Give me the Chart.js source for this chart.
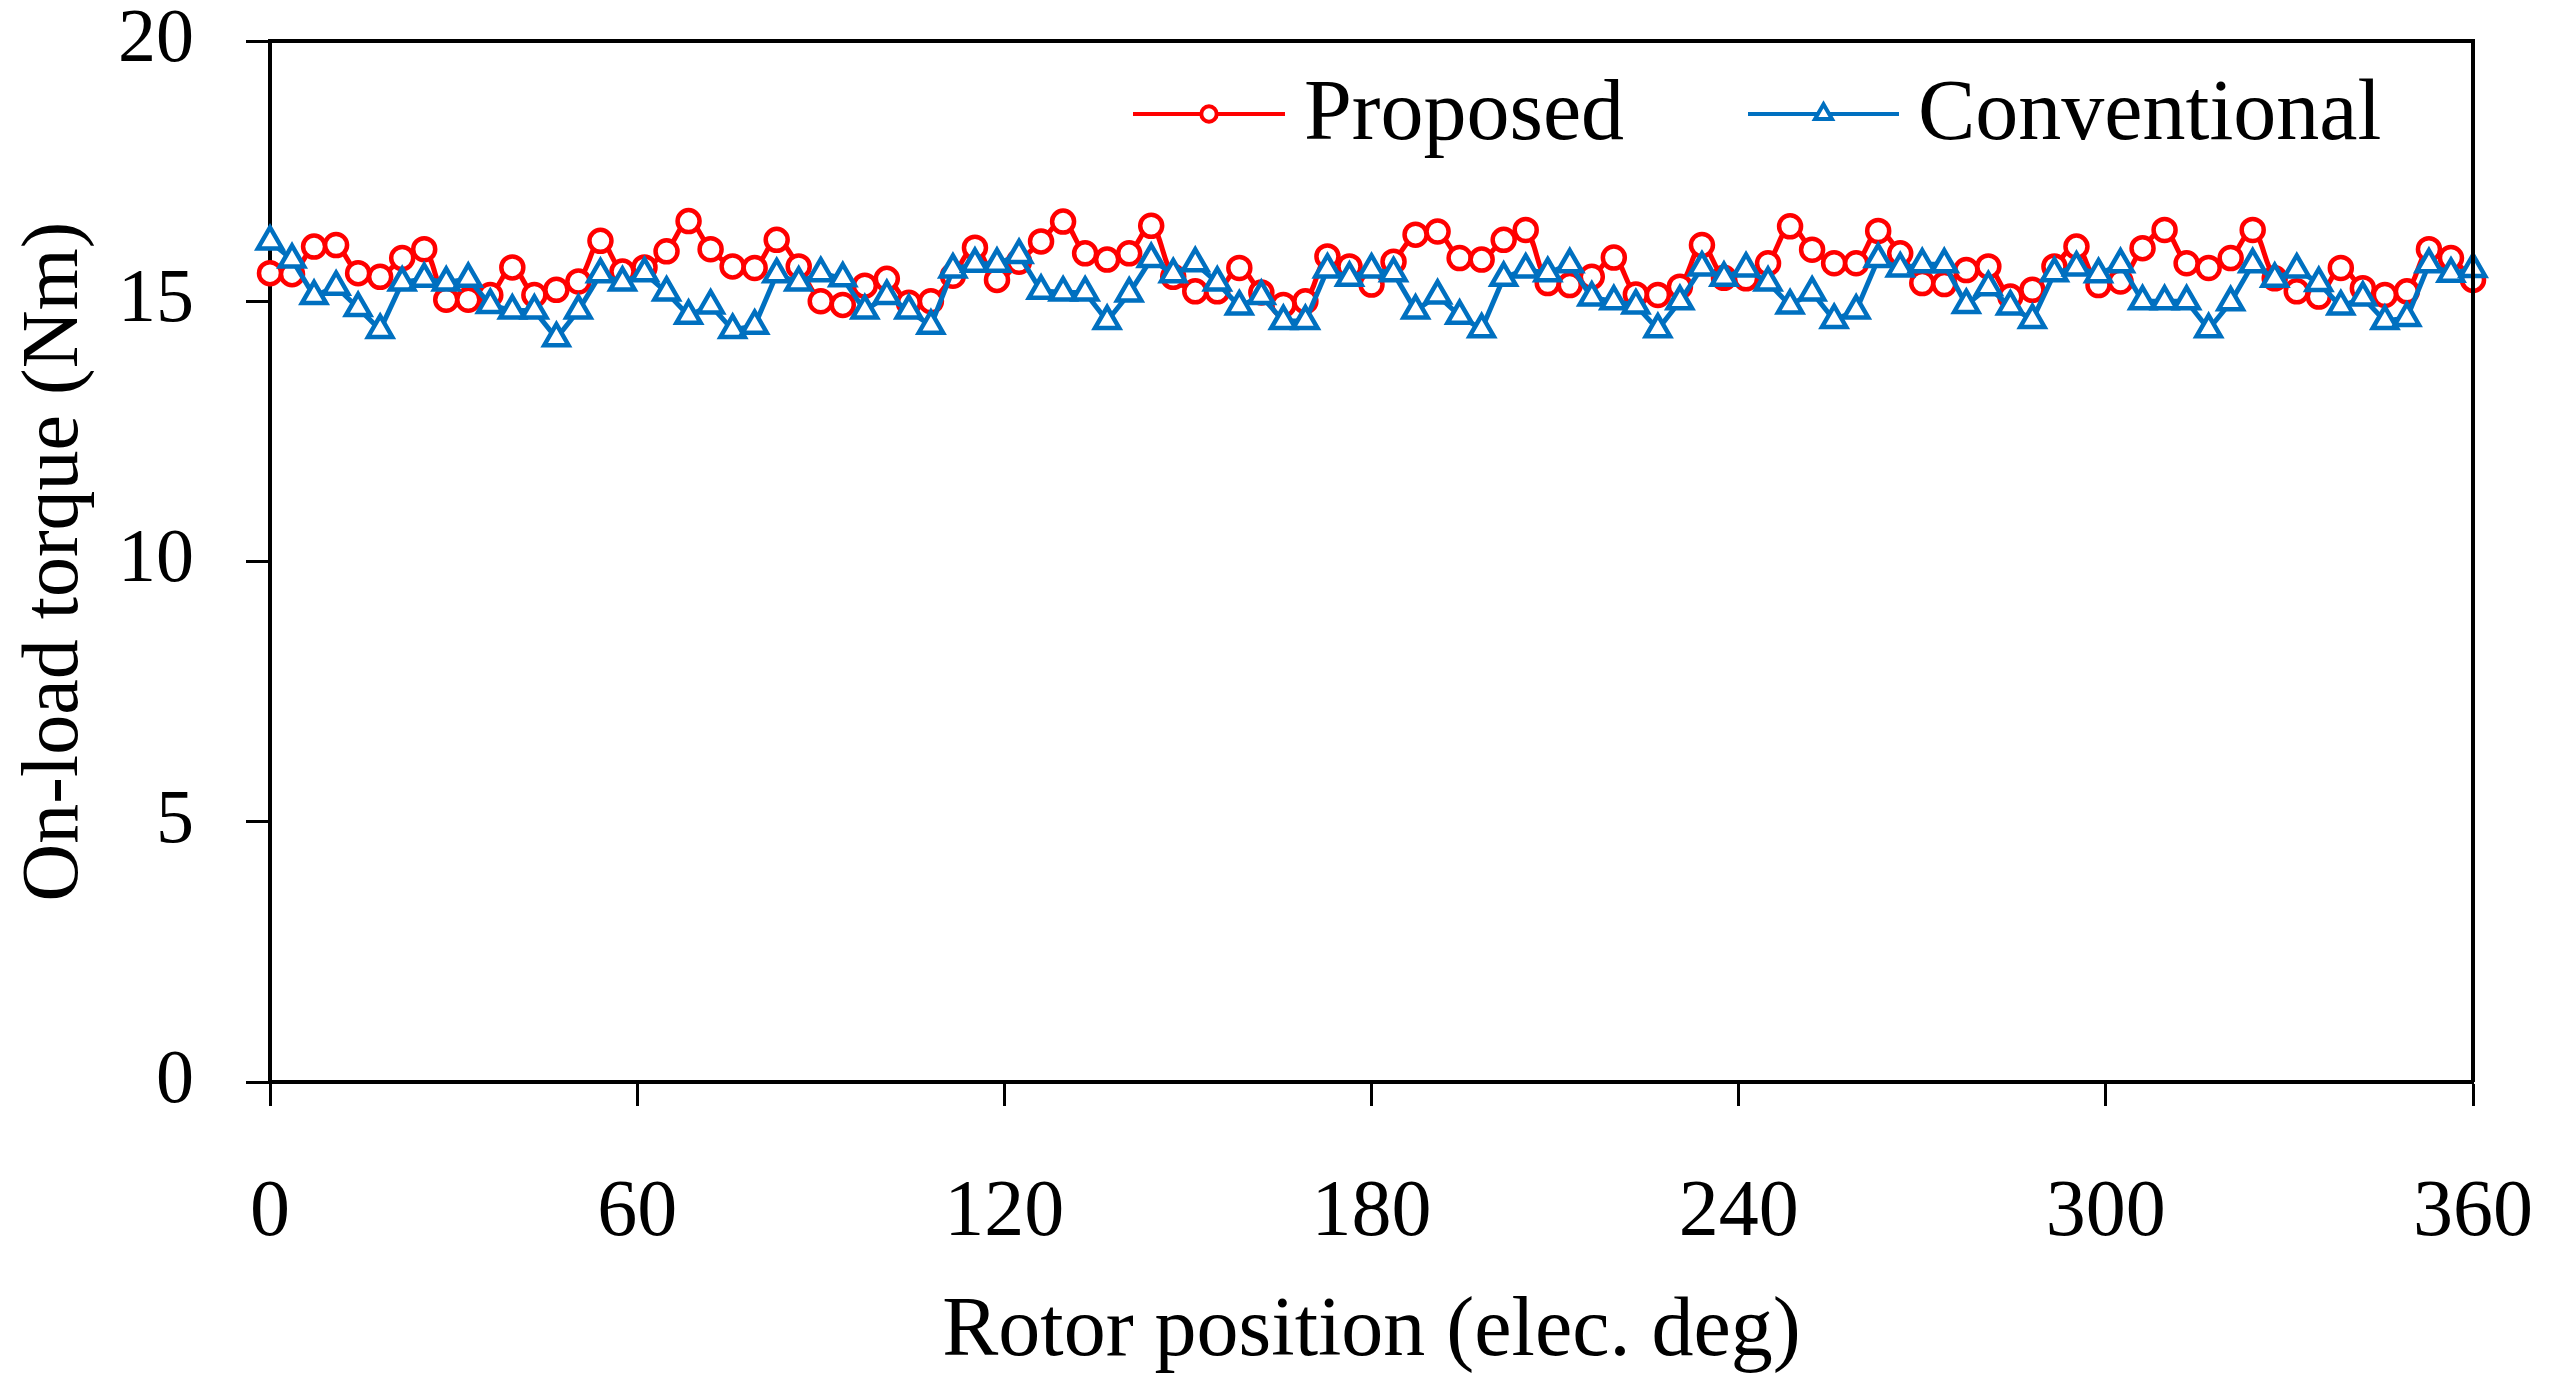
<!DOCTYPE html>
<html>
<head>
<meta charset="utf-8">
<script src="https://cdn.jsdelivr.net/npm/chart.js@4.4.1/dist/chart.umd.min.js"></script>
<style>
  html, body { margin: 0; padding: 0; background: #fff; }
</style>
</head>
<body>
<canvas id="Chart1" width="2550" height="1398"></canvas>
<script>
// Rotor position (elec. deg), one sample every 3.6 deg
const angles = [
  0, 3.6, 7.2, 10.8, 14.4, 18, 21.6, 25.2, 28.8, 32.4,
  36, 39.6, 43.2, 46.8, 50.4, 54, 57.6, 61.2, 64.8, 68.4,
  72, 75.6, 79.2, 82.8, 86.4, 90, 93.6, 97.2, 100.8, 104.4,
  108, 111.6, 115.2, 118.8, 122.4, 126, 129.6, 133.2, 136.8, 140.4,
  144, 147.6, 151.2, 154.8, 158.4, 162, 165.6, 169.2, 172.8, 176.4,
  180, 183.6, 187.2, 190.8, 194.4, 198, 201.6, 205.2, 208.8, 212.4,
  216, 219.6, 223.2, 226.8, 230.4, 234, 237.6, 241.2, 244.8, 248.4,
  252, 255.6, 259.2, 262.8, 266.4, 270, 273.6, 277.2, 280.8, 284.4,
  288, 291.6, 295.2, 298.8, 302.4, 306, 309.6, 313.2, 316.8, 320.4,
  324, 327.6, 331.2, 334.8, 338.4, 342, 345.6, 349.2, 352.8, 356.4,
  360
];

// On-load torque (Nm)
const proposed = [
  15.54, 15.52, 16.05, 16.08, 15.54, 15.47, 15.83, 16.00, 15.03, 15.03,
  15.12, 15.65, 15.12, 15.22, 15.38, 16.16, 15.57, 15.65, 15.96, 16.54,
  16.00, 15.67, 15.64, 16.18, 15.67, 15.00, 14.93, 15.30, 15.43, 14.97,
  15.00, 15.49, 16.03, 15.41, 15.76, 16.15, 16.53, 15.92, 15.80, 15.92,
  16.45, 15.47, 15.19, 15.19, 15.64, 15.17, 14.93, 15.00, 15.86, 15.67,
  15.32, 15.76, 16.28, 16.34, 15.83, 15.80, 16.18, 16.37, 15.35, 15.31,
  15.47, 15.84, 15.13, 15.12, 15.28, 16.08, 15.45, 15.44, 15.73, 16.44,
  15.99, 15.73, 15.73, 16.35, 15.92, 15.35, 15.33, 15.60, 15.67, 15.09,
  15.22, 15.67, 16.05, 15.31, 15.38, 16.02, 16.37, 15.73, 15.64, 15.83,
  16.37, 15.44, 15.19, 15.09, 15.64, 15.25, 15.12, 15.19, 16.00, 15.83,
  15.41
];
const conventional = [
  16.15, 15.80, 15.10, 15.28, 14.87, 14.45, 15.36, 15.43, 15.36, 15.43,
  14.93, 14.82, 14.82, 14.29, 14.82, 15.52, 15.36, 15.54, 15.17, 14.72,
  14.92, 14.45, 14.53, 15.52, 15.36, 15.54, 15.44, 14.82, 15.10, 14.82,
  14.53, 15.61, 15.72, 15.72, 15.89, 15.20, 15.17, 15.17, 14.62, 15.15,
  15.81, 15.52, 15.73, 15.36, 14.90, 15.10, 14.62, 14.62, 15.61, 15.45,
  15.61, 15.54, 14.82, 15.11, 14.72, 14.46, 15.45, 15.61, 15.54, 15.71,
  15.07, 15.00, 14.92, 14.46, 15.00, 15.65, 15.45, 15.63, 15.36, 14.92,
  15.17, 14.64, 14.82, 15.81, 15.63, 15.71, 15.71, 14.93, 15.27, 14.90,
  14.64, 15.54, 15.65, 15.52, 15.71, 15.00, 15.00, 15.00, 14.46, 14.98,
  15.71, 15.43, 15.61, 15.35, 14.90, 15.07, 14.62, 14.68, 15.71, 15.53,
  15.62
];

const xTicks = [0, 60, 120, 180, 240, 300, 360];
const yTicks = [0, 5, 10, 15, 20];

const FONT = '"Liberation Serif", "DejaVu Serif", serif';
const RED = '#FF0000';
const BLUE = '#0070C0';

function toPoints(xs, ys) {
  return xs.map((x, i) => ({x: x, y: ys[i]}));
}

// plot frame (top and right edges)
const framePlugin = {
  id: 'frame',
  afterDraw(chart) {
    const {ctx, chartArea: a} = chart;
    ctx.save();
    ctx.strokeStyle = '#000';
    ctx.lineWidth = 4;
    ctx.beginPath();
    ctx.moveTo(a.left, a.top);
    ctx.lineTo(a.right, a.top);
    ctx.lineTo(a.right, a.bottom);
    ctx.stroke();
    ctx.restore();
  }
};

// legend like the Excel one: short line with the marker in the middle
const lineLegend = {
  id: 'lineLegend',
  afterDraw(chart) {
    const ctx = chart.ctx;
    const items = [
      {ds: 0, x1: 1133, x2: 1285, tx: 1304},
      {ds: 1, x1: 1748, x2: 1899, tx: 1918}
    ];
    const y = 114;
    ctx.save();
    items.forEach(it => {
      const ds = chart.data.datasets[it.ds];
      ctx.strokeStyle = ds.borderColor;
      ctx.lineWidth = 4;
      ctx.beginPath();
      ctx.moveTo(it.x1, y);
      ctx.lineTo(it.x2, y);
      ctx.stroke();
      ctx.fillStyle = '#fff';
      ctx.strokeStyle = ds.pointBorderColor;
      ctx.lineWidth = 4;
      Chart.helpers.drawPoint(ctx, {pointStyle: ds.pointStyle, radius: ds.pointRadius * 0.7, borderWidth: 4, rotation: 0}, (it.x1 + it.x2) / 2, y);
      ctx.fillStyle = '#000';
      ctx.font = '86px ' + FONT;
      ctx.textBaseline = 'middle';
      ctx.textAlign = 'left';
      ctx.fillText(ds.label, it.tx, y + 2);
    });
    ctx.restore();
  }
};

const ctx = document.getElementById('Chart1').getContext('2d');
new Chart(ctx, {
  type: 'line',
  data: {
    datasets: [
      {
        label: 'Proposed',
        data: toPoints(angles, proposed),
        borderColor: RED,
        borderWidth: 5,
        tension: 0.35,
        pointStyle: 'circle',
        pointRadius: 11,
        pointBorderWidth: 4.5,
        pointBorderColor: RED,
        pointBackgroundColor: '#fff',
        clip: false,
        order: 1
      },
      {
        label: 'Conventional',
        data: toPoints(angles, conventional),
        borderColor: BLUE,
        borderWidth: 5,
        tension: 0,
        pointStyle: 'triangle',
        pointRadius: 14,
        pointBorderWidth: 4.5,
        pointBorderColor: BLUE,
        pointBackgroundColor: '#fff',
        clip: false,
        order: 0
      }
    ]
  },
  options: {
    responsive: false,
    animation: false,
    devicePixelRatio: 1,
    layout: {padding: {top: 41, right: 77, left: 0, bottom: 0}},
    plugins: {
      legend: {display: false},
      tooltip: {enabled: false}
    },
    scales: {
      x: {
        type: 'linear',
        min: 0,
        max: 360,
        afterBuildTicks: s => { s.ticks = xTicks.map(v => ({value: v})); },
        afterFit: s => {
          s.height = 316;
          s.paddingLeft = 0;
          s.paddingRight = 0;
        },
        ticks: {
          color: '#000',
          font: {family: FONT, size: 80},
          padding: 60,
          maxRotation: 0,
          autoSkip: false
        },
        grid: {
          drawOnChartArea: false,
          drawTicks: true,
          tickLength: 24,
          tickWidth: 3,
          tickColor: '#000'
        },
        border: {color: '#000', width: 4},
        title: {
          display: true,
          text: 'Rotor position (elec. deg)',
          color: '#000',
          font: {family: FONT, size: 84},
          padding: {top: 0, bottom: 15}
        }
      },
      y: {
        min: 0,
        max: 20,
        afterBuildTicks: s => { s.ticks = yTicks.map(v => ({value: v})); },
        afterFit: s => {
          s.width = 270;
          s.paddingTop = 0;
          s.paddingBottom = 0;
        },
        ticks: {
          color: '#000',
          font: {family: FONT, size: 76},
          padding: 52
        },
        grid: {
          drawOnChartArea: false,
          drawTicks: true,
          tickLength: 24,
          tickWidth: 3,
          tickColor: '#000'
        },
        border: {color: '#000', width: 4},
        title: {
          display: true,
          text: 'On-load torque (Nm)',
          color: '#000',
          font: {family: FONT, size: 80},
          padding: {top: 8, bottom: 0}
        }
      }
    }
  },
  plugins: [framePlugin, lineLegend]
});
</script>
</body>
</html>
